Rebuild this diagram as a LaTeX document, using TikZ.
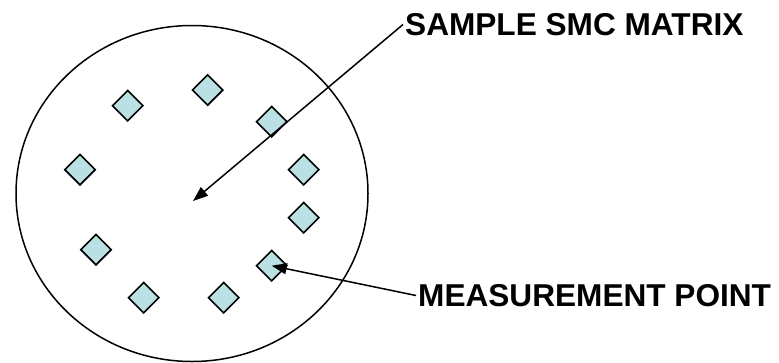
\documentclass[tikz,border=0pt]{standalone}
\usepackage{fontspec}
\setmainfont{Liberation Sans}
\usetikzlibrary{shapes.geometric,arrows.meta}
\definecolor{ptfill}{RGB}{187,224,228}
\begin{document}
\begin{tikzpicture}[x=1pt,y=-1pt,
  pt/.style={diamond,draw=black,line width=1.6pt,fill=ptfill,minimum width=31pt,minimum height=31pt,inner sep=0pt},
  lbl/.style={anchor=west,inner sep=2pt,font=\fontsize{31.6}{36}\selectfont\bfseries},
  arr/.style={line width=1.5pt,-{Triangle[length=15pt,width=11pt]}}]
\useasboundingbox (0,0) rectangle (779,362);
\draw[line width=1.5pt] (192,193.5) ellipse [x radius=176, y radius=168];
\node[pt] (d1) at (127.7,105.7) {};
\node[pt] (d2) at (207.7,90) {};
\node[pt] (d3) at (271.7,121.7) {};
\node[pt] (d4) at (80,169.7) {};
\node[pt] (d5) at (303.7,169.7) {};
\node[pt] (d6) at (303.7,217.7) {};
\node[pt] (d7) at (96,249.7) {};
\node[pt] (d8) at (271.7,265.7) {};
\node[pt] (d9) at (143.7,297.7) {};
\node[pt] (d10) at (223.7,297.7) {};
\coordinate (ctr) at (193,201);
\node[lbl] (t1) at (403,24.5) {SAMPLE SMC MATRIX};
\node[lbl] (t2) at (416,295.5) {MEASUREMENT POINT};
\draw[arr] (t1.west) -- (ctr);
\draw[arr] (t2.west) -- (d8.center);
\end{tikzpicture}
\end{document}
